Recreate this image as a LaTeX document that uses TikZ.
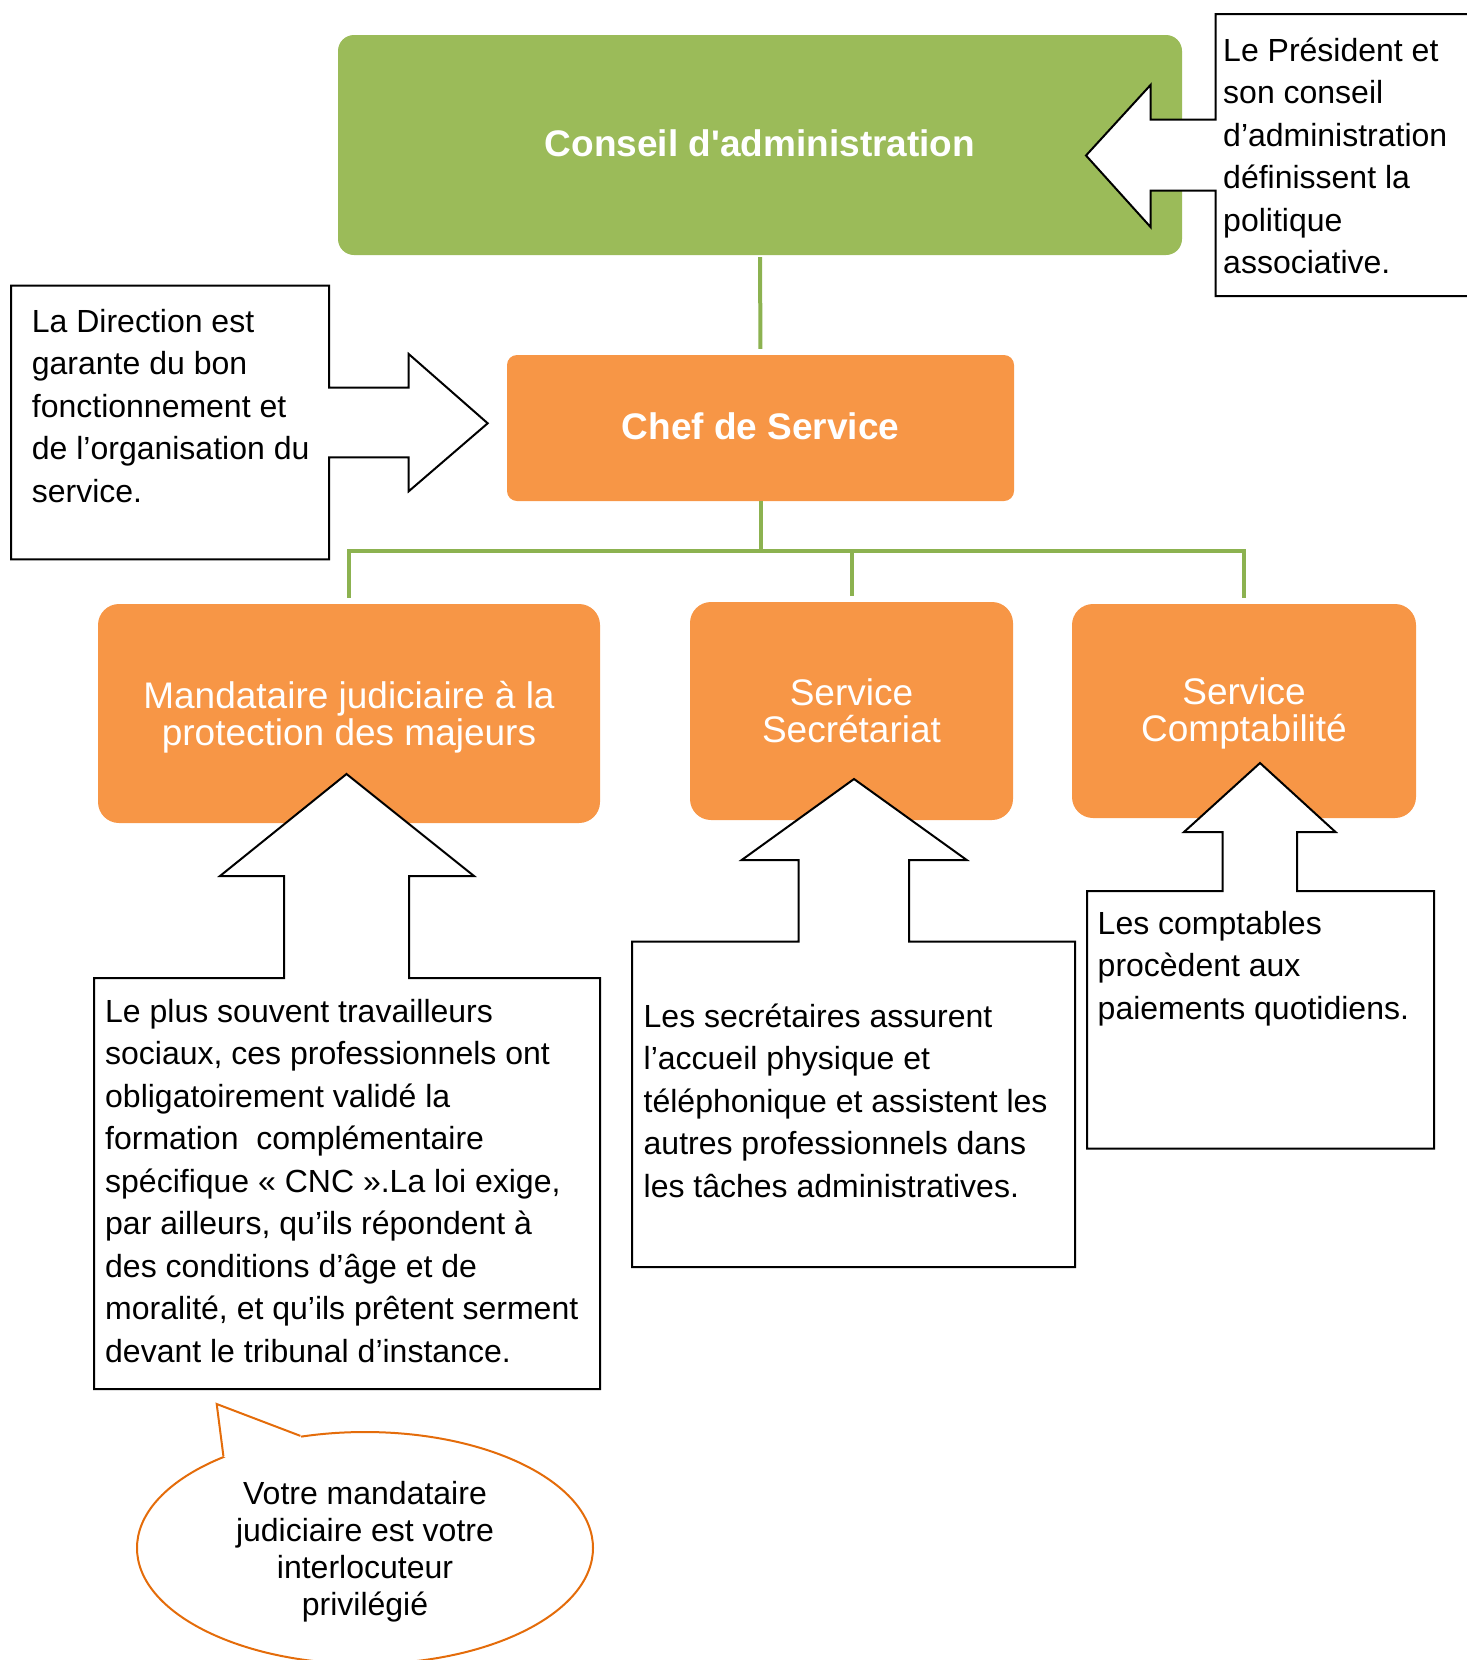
\documentclass[tikz,border=0pt]{standalone}
\usepackage{fontspec}
\setmainfont{Liberation Sans}
\usetikzlibrary{shapes.geometric,calc}
\definecolor{cgreen}{HTML}{9BBB59}
\definecolor{corange}{HTML}{F79646}
\definecolor{clink}{RGB}{140,178,80}
\definecolor{cbubble}{HTML}{E46C0A}
\newcommand{\uptext}{\rule[-4pt]{0pt}{4pt}}
\newcommand{\downtext}[1]{\rule{0pt}{#1}}
\begin{document}
\begin{tikzpicture}[x=1pt,y=-1pt,
  orgbox/.style={rounded corners=#1, inner sep=0pt, text=white, align=center},
  headfont/.style={font=\bfseries\fontsize{37}{44}\selectfont},
  subfont/.style={font=\fontsize{37}{37}\selectfont},
  link/.style={draw=clink, line width=4pt},
  callout/.style={fill=white, draw=black, line width=2pt, line join=miter},
  calltext/.style={anchor=north west, inner sep=0pt, align=left, font=\fontsize{32}{42.5}\selectfont}
]
\useasboundingbox (0,0) rectangle (1467,1660);

% organisation boxes
\node[orgbox=16pt, fill=cgreen, headfont, minimum width=844pt, minimum height=220pt] (conseil) at (760,145) {\uptext Conseil d\textquotesingle administration};
\node[orgbox=10pt, fill=corange, headfont, minimum width=507pt, minimum height=146pt] (chef) at (760.5,428) {\uptext Chef de Service};
\node[orgbox=21pt, fill=corange, subfont, minimum width=502pt, minimum height=219pt] (mand) at (349,713.5) {\downtext{35pt}Mandataire judiciaire à la\\protection des majeurs};
\node[orgbox=21pt, fill=corange, subfont, minimum width=323pt, minimum height=218pt] (secr) at (851.5,711) {Service\\Secrétariat};
\node[orgbox=21pt, fill=corange, subfont, minimum width=344pt, minimum height=214pt] (compta) at (1244,711) {\downtext{31pt}Service\\Comptabilité};

% connectors
\draw[link, shorten <=2pt, shorten >=6pt] (conseil.south) -- (chef.north);
\draw[link, shorten >=6pt] (chef.south) -- ++(0,50) -| (mand.north);
\draw[link, shorten >=6pt] (chef.south) -- ++(0,50) -| (secr.north);
\draw[link, shorten >=6pt] (chef.south) -- ++(0,50) -| (compta.north);

% callout: conseil (open to the right edge)
\path[fill=white] (1467,14) -- (1215.7,14) -- (1215.7,119.5) -- (1150.5,119.5) -- (1150.5,85) -- (1086,155.5) -- (1150.5,227) -- (1150.5,190.5) -- (1215.7,190.5) -- (1215.7,296) -- (1467,296) -- cycle;
\draw[line width=2pt, line join=miter] (1467,14) -- (1215.7,14) -- (1215.7,119.5) -- (1150.5,119.5) -- (1150.5,85) -- (1086,155.5) -- (1150.5,227) -- (1150.5,190.5) -- (1215.7,190.5) -- (1215.7,296) -- (1467,296);

% callout: direction
\draw[callout] (329,387.7) -- (329,285.7) -- (11,285.7) -- (11,559.3) -- (329,559.3) -- (329,457.3) -- (408.7,457.3) -- (408.7,491.3) -- (487.7,423.3) -- (408.7,354) -- (408.7,387.7) -- cycle;

% callout: mandataire
\draw[callout] (409,978) -- (409,876) -- (474,876) -- (346.5,774) -- (220,876) -- (284,876) -- (284,978) -- (94,978) -- (94,1389) -- (600,1389) -- (600,978) -- cycle;

% callout: secretariat
\draw[callout] (909,941.7) -- (909,860) -- (966.7,860) -- (854,779) -- (741.7,860) -- (798.7,860) -- (798.7,941.7) -- (632,941.7) -- (632,1267) -- (1075,1267) -- (1075,941.7) -- cycle;

% callout: comptabilite
\draw[callout] (1297,891) -- (1297,832) -- (1335.5,832) -- (1260,763) -- (1184,832) -- (1222.5,832) -- (1222.5,891) -- (1087,891) -- (1087,1148.5) -- (1434,1148.5) -- (1434,891) -- cycle;

% callout texts
\node[calltext] (tpres) at (1223,31.25) {\strut Le Président et\\son conseil\\d’administration\\définissent la\\politique\\associative.};
\node[calltext] (tdir) at (31.7,302.25) {\strut La Direction est\\garante du bon\\fonctionnement et\\de l’organisation du\\service.};
\node[calltext] (tmand) at (105,992.25) {\strut Le plus souvent travailleurs\\sociaux, ces professionnels ont\\obligatoirement validé la\\formation~~complémentaire\\spécifique « CNC ».La loi exige,\\par ailleurs, qu’ils répondent à\\des conditions d’âge et de\\moralité, et qu’ils prêtent serment\\devant le tribunal d’instance.};
\node[calltext] (tsecr) at (643.5,997.25) {\strut Les secrétaires assurent\\l’accueil physique et\\téléphonique et assistent les\\autres professionnels dans\\les tâches administratives.};
\node[calltext] (tcompta) at (1097.5,904.25) {\strut Les comptables\\procèdent aux\\paiements quotidiens.};

% speech bubble
\node[ellipse, draw=cbubble, line width=2pt, fill=white, minimum width=456pt, minimum height=232pt, inner sep=0pt, align=center, font=\fontsize{32}{37}\selectfont] (bubble) at (365,1548) {\rule{0pt}{31.5pt}Votre mandataire\\judiciaire est votre\\interlocuteur\\privilégié};
\coordinate (tip) at (216.7,1404);
\coordinate (ba) at (bubble.120.3);
\coordinate (bb) at (bubble.147.7);
\fill[white] (tip) -- (ba) -- ($(ba)!4pt!(bubble.center)$) -- ($(bb)!4pt!(bubble.center)$) -- (bb) -- cycle;
\draw[cbubble, line width=2pt, line join=miter] (ba) -- (tip) -- (bb);
\end{tikzpicture}
\end{document}
